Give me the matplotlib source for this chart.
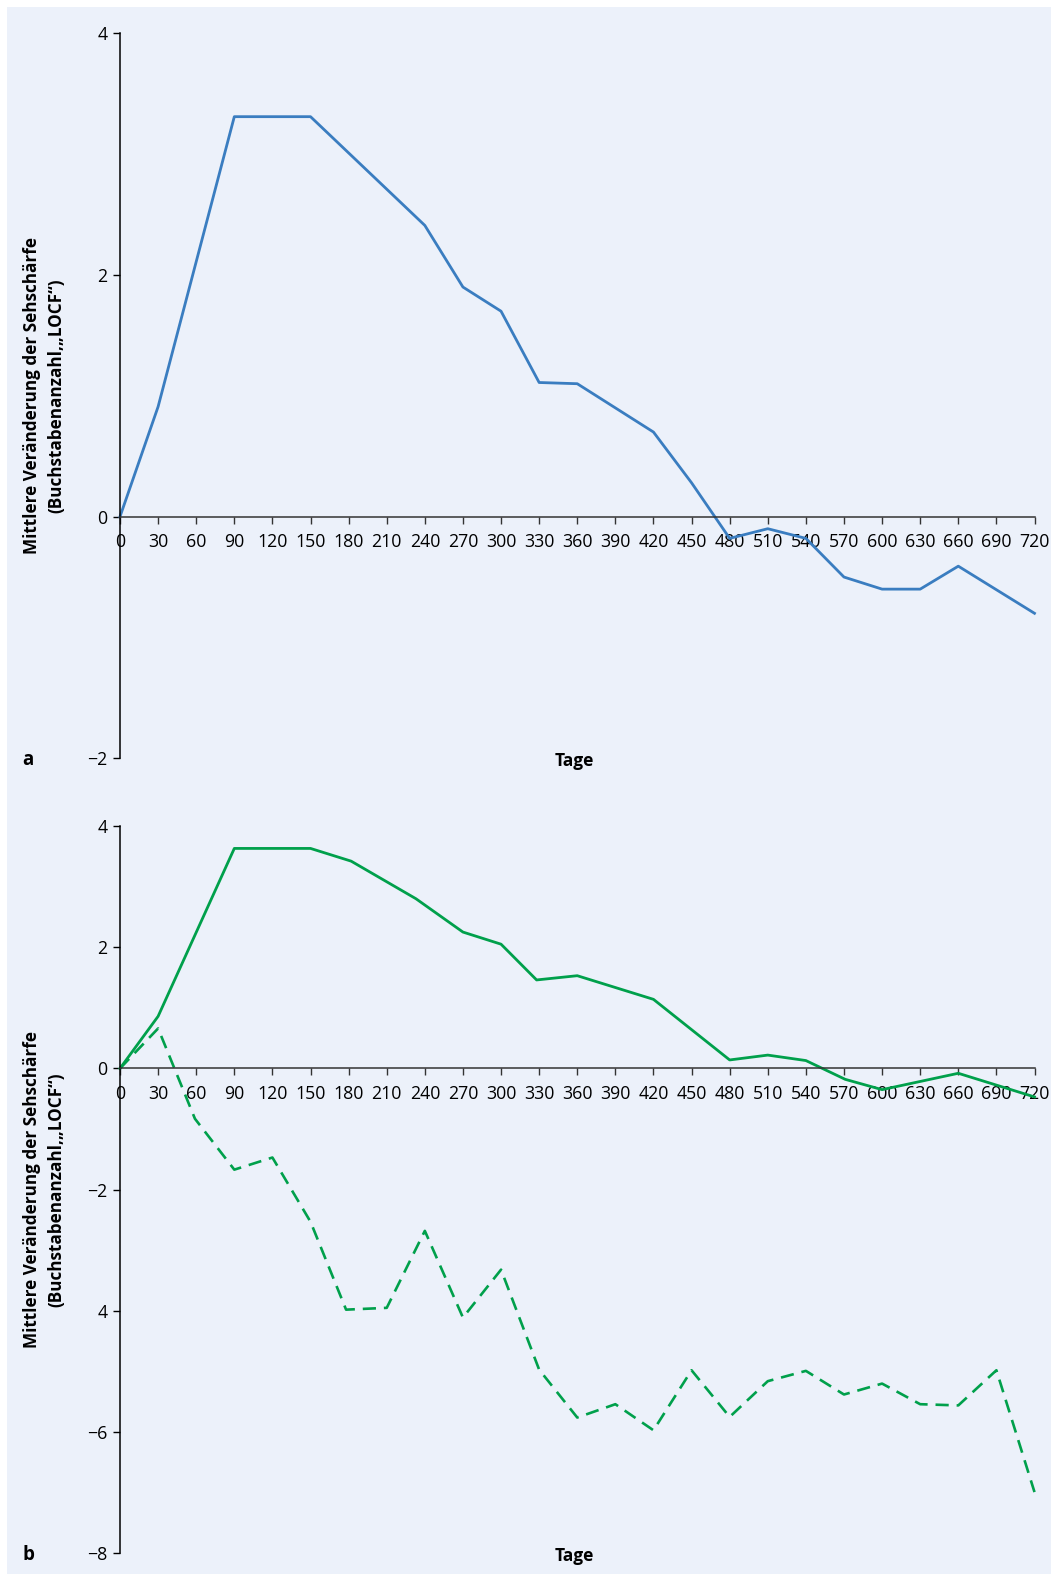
import matplotlib.pyplot as plt
from matplotlib.patches import Rectangle

plt.rcParams['font.family'] = ['Open Sans', 'DejaVu Sans']

# Daten Panel a (blau)
tage_a = [0, 30, 90, 150, 240, 270, 300, 330, 360, 420, 450, 480, 510, 540, 570, 600, 630, 660, 720]
werte_a = [0, 0.91, 3.31, 3.31, 2.41, 1.90, 1.70, 1.11, 1.10, 0.70, 0.28, -0.18, -0.10, -0.18,
           -0.50, -0.60, -0.60, -0.41, -0.80]

# Daten Panel b (gruen, durchgezogen)
tage_b1 = [0, 30, 90, 150, 182, 233, 270, 300, 328, 360, 420, 480, 510, 540, 571, 600, 660, 720]
werte_b1 = [0, 0.86, 3.63, 3.63, 3.42, 2.80, 2.25, 2.05, 1.46, 1.53, 1.14, 0.14, 0.22, 0.13,
            -0.18, -0.35, -0.08, -0.47]

# Daten Panel b (gruen, gestrichelt)
tage_b2 = [0, 30, 59, 90, 120, 150, 178, 210, 240, 270, 300, 330, 360, 390, 420, 450, 480,
           510, 540, 570, 600, 630, 660, 690, 720]
werte_b2 = [0, 0.66, -0.83, -1.67, -1.47, -2.53, -3.98, -3.95, -2.68, -4.11, -3.32, -4.97,
            -5.76, -5.54, -5.97, -4.98, -5.75, -5.16, -4.99, -5.38, -5.20, -5.54, -5.56,
            -4.98, -6.99]

x_ticks = list(range(0, 721, 30))
y_ticks_a = [-2, 0, 2, 4]
y_labels_a = ['\u22122', '0', '2', '4']
y_ticks_b = [-8, -6, -4, -2, 0, 2, 4]
y_labels_b = ['\u22128', '\u22126', '4', '\u22122', '0', '2', '4']

bg = '#ECF1FA'
blau = '#3A7DC0'
gruen = '#00A04B'
ylabel = 'Mittlere Veränderung der Sehschärfe\n(Buchstabenanzahl,\u201eLOCF\u201c)'

W, H = 1051, 1574
fig = plt.figure(figsize=(W / 100, H / 100), dpi=100, facecolor='white')
hintergrund = Rectangle((7 / W, 0), 1 - 7 / W, 1 - 7 / H, transform=fig.transFigure,
                        facecolor=bg, edgecolor='none', zorder=-10)
fig.add_artist(hintergrund)


def panel(rect, ylim, yt, ylab, buchstabe):
    ax = fig.add_axes(rect)
    ax.set_facecolor('none')
    ax.set_xlim(0, 720)
    ax.set_ylim(*ylim)
    for s in ['top', 'right']:
        ax.spines[s].set_visible(False)
    ax.spines['bottom'].set_position(('data', 0))
    ax.spines['left'].set_linewidth(1.1)
    ax.spines['bottom'].set_linewidth(1.1)
    ax.spines['bottom'].set_color('#333333')
    ax.set_xticks(x_ticks)
    ax.set_xticklabels([str(t) for t in x_ticks])
    ax.set_yticks(yt)
    ax.set_yticklabels(ylab)
    ax.tick_params(axis='x', direction='out', length=5, width=1.0, pad=7, labelsize=12.8,
                   color='#333333')
    ax.tick_params(axis='y', direction='out', length=5, width=1.0, pad=4, labelsize=12.8)
    ax.annotate('Tage', (0.5, 0), xycoords='axes fraction', xytext=(-2, -2),
                textcoords='offset points', ha='center', va='center',
                fontsize=12.5, fontweight='bold')
    bb = ax.get_position()
    fig.text(28 / W, bb.y0 - 2 / H, buchstabe, ha='center', va='center', fontsize=13.5,
             fontweight='bold')
    fig.text(44.5 / W, (bb.y0 + bb.y1) / 2, ylabel, rotation=90, ha='center', va='center',
             multialignment='center', fontsize=12.3, fontweight='bold', linespacing=1.45)
    return ax


ax_a = panel([120 / W, 1 - 758.3 / H, 914.5 / W, 725 / H], (-2, 4), y_ticks_a, y_labels_a, 'a')
ax_a.plot(tage_a, werte_a, color=blau, lw=2.0, clip_on=False)

ax_b = panel([120 / W, 1 - 1553.3 / H, 914.5 / W, 727.3 / H], (-8, 4), y_ticks_b, y_labels_b, 'b')
ax_b.plot(tage_b1, werte_b1, color=gruen, lw=2.0, clip_on=False)
ax_b.plot(tage_b2, werte_b2, color=gruen, lw=1.9, ls=(0, (5, 3)), clip_on=False)

fig.savefig('out.png', dpi=100, facecolor='white')
